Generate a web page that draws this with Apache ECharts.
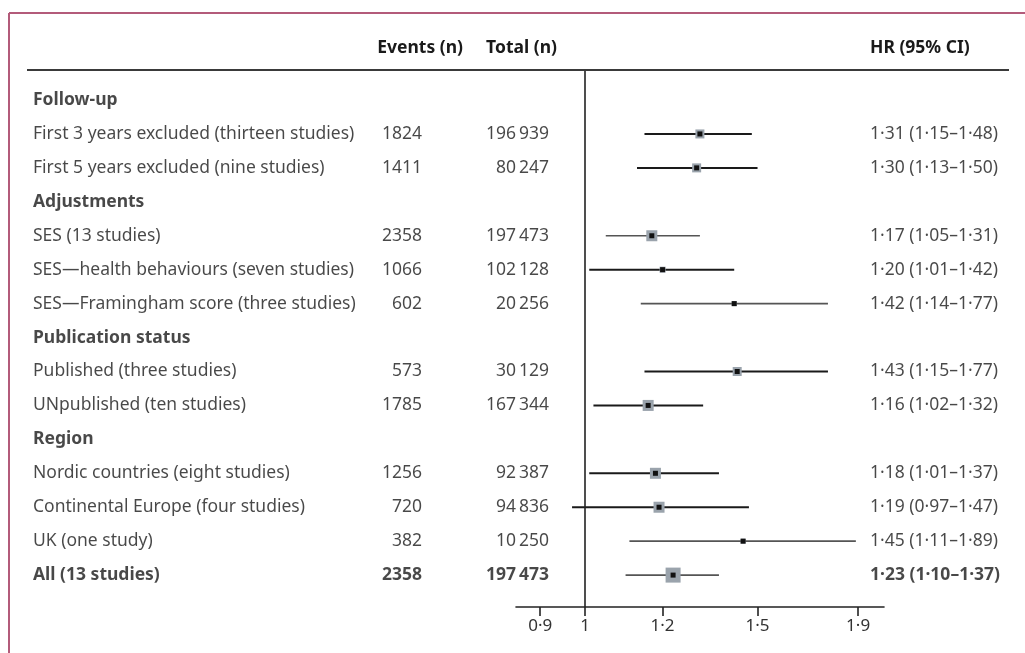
<!DOCTYPE html>
<html>
<head>
<meta charset="utf-8">
<script src="https://cdn.jsdelivr.net/npm/echarts@6/dist/echarts.min.js"></script>
<style>
  html, body { margin: 0; padding: 0; background: #ffffff; }
  #chart { width: 1025px; height: 653px; }
</style>
</head>
<body>
<div id="chart"></div>
<script>
// Rows of the forest plot, top to bottom
const rowLabels = [
  'Follow-up',
  'First 3 years excluded (thirteen studies)',
  'First 5 years excluded (nine studies)',
  'Adjustments',
  'SES (13 studies)',
  'SES\u2014health behaviours (seven studies)',
  'SES\u2014Framingham score (three studies)',
  'Publication status',
  'Published (three studies)',
  'UNpublished (ten studies)',
  'Region',
  'Nordic countries (eight studies)',
  'Continental Europe (four studies)',
  'UK (one study)',
  'All (13 studies)'
];
const events = [null, 1824, 1411, null, 2358, 1066, 602, null, 573, 1785, null, 1256, 720, 382, 2358];
const totals = [null, 196939, 80247, null, 197473, 102128, 20256, null, 30129, 167344, null, 92387, 94836, 10250, 197473];
const hr     = [null, 1.31, 1.30, null, 1.17, 1.20, 1.42, null, 1.43, 1.16, null, 1.18, 1.19, 1.45, 1.23];
const ciLow  = [null, 1.15, 1.13, null, 1.05, 1.01, 1.14, null, 1.15, 1.02, null, 1.01, 0.97, 1.11, 1.10];
const ciHigh = [null, 1.48, 1.50, null, 1.31, 1.42, 1.77, null, 1.77, 1.32, null, 1.37, 1.47, 1.89, 1.37];
const tickValues = [0.9, 1, 1.2, 1.5, 1.9];
const tickLabels = ['0\u00b79', '1', '1\u00b72', '1\u00b75', '1\u00b79'];

// Styling: bold rows, rows drawn with grey whiskers, square sizes (px)
const boldRows = [0, 3, 7, 10, 14];
const greyRows = [4, 6, 13, 14];
const boxPx = [0, 9, 9, 0, 11, 6, 5, 0, 9, 11, 0, 11, 11, 5, 15];

const FONT = '"Noto Sans"';
const FONT_SIZE = 17.5;
const TEXT_COLOR = '#1a1a1a';
const fmtDot = v => v.toFixed(2).replace('.', '\u00b7');
const fmtTotal = n => String(n).replace(/\B(?=(\d{3})+(?!\d))/g, '\u2009');

const yMin = -0.855, yMax = 14.94;
const xMin = -0.1622, xMax = 0.7027; // natural-log scale extent

const forestData = [];
hr.forEach((v, i) => {
  if (v == null) return;
  forestData.push([i, Math.log(ciLow[i]), Math.log(ciHigh[i]), Math.log(v), boxPx[i]]);
});

function textSeries(name, x, side, getText) {
  const data = [];
  rowLabels.forEach((lab, i) => {
    const t = getText(i);
    if (t == null) return;
    const bold = boldRows.indexOf(i) >= 0;
    data.push({
      value: [x, i],
      label: { formatter: t, fontWeight: bold ? 'bold' : 'normal' }
    });
  });
  return {
    name, type: 'scatter', xAxisIndex: 1, yAxisIndex: 1, symbolSize: 0, silent: true,
    data,
    label: {
      show: true, position: side, distance: 0,
      fontFamily: FONT, fontSize: FONT_SIZE, color: TEXT_COLOR
    }
  };
}

const headerFont = 'bold ' + FONT_SIZE + 'px ' + FONT;

const chart = echarts.init(document.getElementById('chart'), null, { renderer: 'canvas' });
chart.setOption({
  animation: false,
  backgroundColor: '#ffffff',
  grid: [
    { left: 516, right: 141, top: 71, bottom: 46 },
    { left: 0, right: 0, top: 71, bottom: 46 }
  ],
  xAxis: [
    {
      type: 'value', gridIndex: 0, min: xMin, max: xMax,
      splitLine: { show: false },
      axisLine: { show: true, onZero: false, lineStyle: { color: '#222', width: 1.6 } },
      axisTick: { show: true, length: 9, customValues: tickValues.map(Math.log), lineStyle: { color: '#222', width: 1.6 } },
      axisLabel: {
        show: true, customValues: tickValues.map(Math.log), margin: 11,
        fontFamily: FONT, fontSize: 17, color: '#333',
        formatter: v => {
          let best = 0;
          tickValues.forEach((t, k) => { if (Math.abs(Math.log(t) - v) < Math.abs(Math.log(tickValues[best]) - v)) best = k; });
          return tickLabels[best];
        }
      }
    },
    { type: 'value', gridIndex: 1, min: 0, max: 1025, show: false }
  ],
  yAxis: [
    { type: 'value', gridIndex: 0, min: yMin, max: yMax, inverse: true, show: false },
    { type: 'value', gridIndex: 1, min: yMin, max: yMax, inverse: true, show: false }
  ],
  graphic: [
    // outer frame (top and left)
    { type: 'line', shape: { x1: 9, y1: 13, x2: 1025, y2: 13 }, style: { stroke: '#b35b7a', lineWidth: 2 } },
    { type: 'line', shape: { x1: 9, y1: 13, x2: 9, y2: 653 }, style: { stroke: '#b35b7a', lineWidth: 2 } },
    // rule under column headers
    { type: 'line', shape: { x1: 27, y1: 70, x2: 1009, y2: 70 }, style: { stroke: '#3a3a3a', lineWidth: 2 } },
    { type: 'text', x: 463, y: 48, style: { text: 'Events (n)', textAlign: 'right', textVerticalAlign: 'middle', font: headerFont, fill: TEXT_COLOR } },
    { type: 'text', x: 557, y: 48, style: { text: 'Total (n)', textAlign: 'right', textVerticalAlign: 'middle', font: headerFont, fill: TEXT_COLOR } },
    { type: 'text', x: 870, y: 48, style: { text: 'HR (95% CI)', textAlign: 'left', textVerticalAlign: 'middle', font: headerFont, fill: TEXT_COLOR } }
  ],
  series: [
    {
      name: 'HR', type: 'custom', xAxisIndex: 0, yAxisIndex: 0, silent: true,
      data: forestData,
      encode: { x: [1, 2, 3], y: 0 },
      renderItem: (params, api) => {
        const row = api.value(0);
        const a = api.coord([api.value(1), row]);
        const b = api.coord([api.value(2), row]);
        const c = api.coord([api.value(3), row]);
        const s = api.value(4);
        const grey = greyRows.indexOf(row) >= 0;
        return {
          type: 'group',
          children: [
            { type: 'line', shape: { x1: a[0], y1: a[1], x2: b[0], y2: b[1] },
              style: { stroke: grey ? '#555' : '#1a1a1a', lineWidth: grey ? 1.7 : 2 } },
            { type: 'rect', shape: { x: c[0] - s / 2, y: c[1] - s / 2, width: s, height: s },
              style: { fill: '#9aa3ac' } },
            { type: 'rect', shape: { x: c[0] - 2.5, y: c[1] - 2.5, width: 5, height: 5 },
              style: { fill: '#111' } }
          ]
        };
      },
      markLine: {
        silent: true, symbol: 'none', label: { show: false },
        lineStyle: { color: '#222', width: 1.6, type: 'solid' },
        data: [{ xAxis: 0 }]
      }
    },
    textSeries('labels', 33, 'right', i => rowLabels[i]),
    textSeries('events', 422, 'left', i => events[i] == null ? null : String(events[i])),
    textSeries('totals', 549, 'left', i => totals[i] == null ? null : fmtTotal(totals[i])),
    textSeries('hrText', 870, 'right', i => hr[i] == null ? null : fmtDot(hr[i]) + ' (' + fmtDot(ciLow[i]) + '\u2013' + fmtDot(ciHigh[i]) + ')')
  ]
});
</script>
</body>
</html>
